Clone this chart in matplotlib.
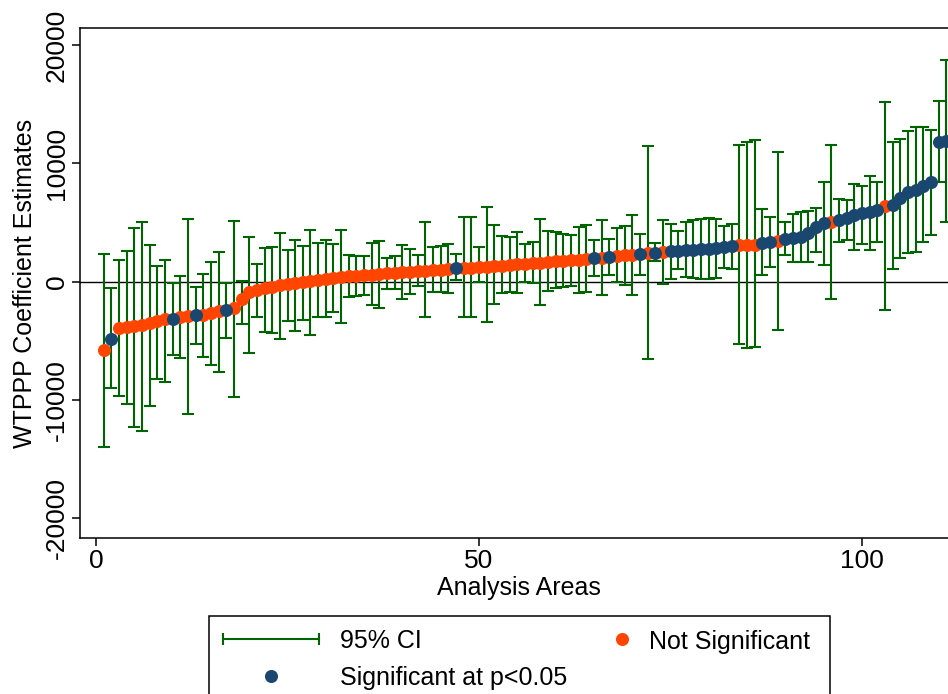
import matplotlib
matplotlib.use("Agg")
import matplotlib.pyplot as plt
from matplotlib.lines import Line2D
from matplotlib.patches import Rectangle
import numpy as np

plt.rcParams["font.family"] = ["Liberation Sans", "DejaVu Sans"]
plt.rcParams["axes.unicode_minus"] = False

# ---------------- data ----------------
areas = list(range(1, 112))

estimates = [
    -5830, -4840, -3910, -3860, -3800, -3690, -3550, -3350, -3210, -3160,
    -3040, -2930, -2870, -2790, -2650, -2510, -2420, -2230, -1520, -880,
    -680, -535, -480, -300, -220, -130, -40, 50, 150, 250,
    320, 380, 430, 470, 510, 550, 600, 680, 730, 780,
    830, 880, 920, 960, 1000, 1040, 1110, 1140, 1180, 1220,
    1260, 1300, 1340, 1390, 1440, 1500, 1550, 1600, 1650, 1700,
    1750, 1800, 1850, 1900, 1960, 2030, 2100, 2160, 2210, 2250,
    2300, 2380, 2450, 2500, 2560, 2600, 2640, 2680, 2720, 2770,
    2830, 2900, 2980, 3060, 3090, 3120, 3250, 3320, 3400, 3560,
    3650, 3740, 4100, 4600, 4950, 5010, 5180, 5380, 5600, 5780,
    5920, 6030, 6420, 6510, 7070, 7550, 7770, 8110, 8390, 11800,
    11860,
]

ci_low = [
    -14030, -9010, -9690, -10340, -12280, -12650, -10530, -8220, -8510, -6250,
    -6450, -11240, -5320, -6390, -7040, -7660, -4790, -9750, -3630, -6030,
    -3010, -4280, -4390, -4820, -3350, -4200, -3270, -4560, -2980, -3010,
    -2590, -3520, -1290, -1240, -1130, -2000, -2240, -620, -650, -1460,
    -1070, -400, -3040, -870, -900, -1010, 110, -2980, -2980, -60,
    -3440, -1880, -1010, -900, -1000, -60, -100, -2000, -820, -590,
    -480, -400, -1010, -900, 450, -1100, 590, -60, -310, -1150,
    590, -6560, 1720, -170, 230, 1100, 400, 310, 250, 230,
    300, 1160, 1070, -5300, -5580, -5520, 540, 1240, -4060, 2220,
    1660, 1650, 1660, 2480, 1380, -1520, 3320, 3490, 2700, 3180,
    2650, 3320, -2450, 1100, 2000, 2420, 2480, 3350, 3910, 8420,
    5050,
]

ci_high = [
    2310, -590, 1800, 2620, 4560, 5070, 3070, 1320, 1830, -110,
    450, 5320, -480, 650, 1660, 2480, -110, 5130, 25, 3800,
    1520, 2820, 2930, 4140, 2680, 3550, 3040, 4370, 3270, 3520,
    3150, 4370, 2250, 2170, 2200, 3230, 3430, 1970, 2140, 3130,
    2790, 2230, 5070, 2900, 2980, 3210, 2340, 5490, 5470, 2930,
    6280, 4760, 3890, 3780, 4190, 3210, 3320, 5270, 4250, 4170,
    4030, 3950, 4590, 4760, 3550, 5240, 3630, 4500, 4730, 5660,
    4060, 11490, 3270, 5180, 4900, 4310, 5010, 5180, 5270, 5350,
    5300, 4670, 4900, 11520, 11800, 12000, 6140, 5490, 10930, 5070,
    5750, 5900, 5940, 6250, 8420, 11520, 6990, 6870, 8280, 8110,
    8960, 8450, 15180, 11770, 12060, 12760, 13070, 13070, 12840, 15290,
    18760,
]

sig_areas = [2, 10, 13, 17, 47, 65, 67, 71, 73,
             75, 76, 77, 78, 79, 80, 81, 82, 83, 87, 88,
             90, 91, 92, 93, 94, 95, 97, 98, 99, 100, 101, 102,
             104, 105, 106, 107, 108, 109, 110, 111]

x_ticks = [0, 50, 100]
y_ticks = [-20000, -10000, 0, 10000, 20000]

label_ci = "95% CI"
label_ns = "Not Significant"
label_sig = "Significant at p<0.05"

# ---------------- style ----------------
GREEN = "#006400"
ORANGE = "#FF4500"
NAVY = "#1A476F"
W, H = 948, 694
AX_L, AX_R, AX_T, AX_B = 80, 958, 28, 538


def fx(px):
    return px / W


def fy(py):
    return 1 - py / H


fig = plt.figure(figsize=(9.48, 6.94), dpi=100)
ax = fig.add_axes([fx(AX_L), fy(AX_B), fx(AX_R) - fx(AX_L), fy(AX_T) - fy(AX_B)])

x = np.array(areas)
est = np.array(estimates)
lo = np.array(ci_low)
hi = np.array(ci_high)
is_sig = np.isin(x, sig_areas)

ax.axhline(0, color="black", lw=1.0, zorder=1)
ax.errorbar(x, est, yerr=[est - lo, hi - est], fmt="none", ecolor=GREEN,
            elinewidth=1.5, capsize=4.3, capthick=1.5, zorder=2)
ax.plot(x[~is_sig], est[~is_sig], "o", color=ORANGE, ms=9.4, mew=0, zorder=3)
ax.plot(x[is_sig], est[is_sig], "o", color=NAVY, ms=9.4, mew=0, zorder=4)

ax.set_xlim((AX_L - 96) / 7.66, (AX_R - 96) / 7.66)
ax.set_ylim(-21690, 21440)
ax.set_xticks(x_ticks)
ax.set_yticks(y_ticks)
ax.set_yticklabels([str(v) for v in y_ticks], rotation=90, va="center")
ax.tick_params(axis="both", direction="out", length=6, width=1.1,
               labelsize=19, pad=2)
for s in ax.spines.values():
    s.set_linewidth(1.1)

ax.set_xlabel("Analysis Areas", fontsize=18, labelpad=2)
ax.set_ylabel("WTPPP Coefficient Estimates", fontsize=18, labelpad=6)

# ---------------- legend (Stata-style box, cropped at the bottom) -------
fig.add_artist(Rectangle((fx(209), fy(722)), fx(830) - fx(209), fy(616) - fy(722),
                         transform=fig.transFigure, fill=False, edgecolor="black",
                         lw=1.1, clip_on=False))
fig.add_artist(Line2D([fx(223), fx(319)], [fy(639), fy(639)], color=GREEN, lw=1.5,
                      marker="|", ms=8.6, mew=1.5, transform=fig.transFigure))
fig.add_artist(Line2D([fx(622)], [fy(639)], color=ORANGE, marker="o", ms=9.4,
                      mew=0, ls="none", transform=fig.transFigure))
fig.add_artist(Line2D([fx(271)], [fy(676)], color=NAVY, marker="o", ms=9.4,
                      mew=0, ls="none", transform=fig.transFigure))
fig.text(fx(340), fy(639), label_ci, fontsize=18, va="center_baseline", ha="left")
fig.text(fx(649), fy(639), label_ns, fontsize=18, va="center_baseline", ha="left")
fig.text(fx(340), fy(676), label_sig, fontsize=18, va="center_baseline", ha="left")

fig.savefig("out.png", dpi=100)
